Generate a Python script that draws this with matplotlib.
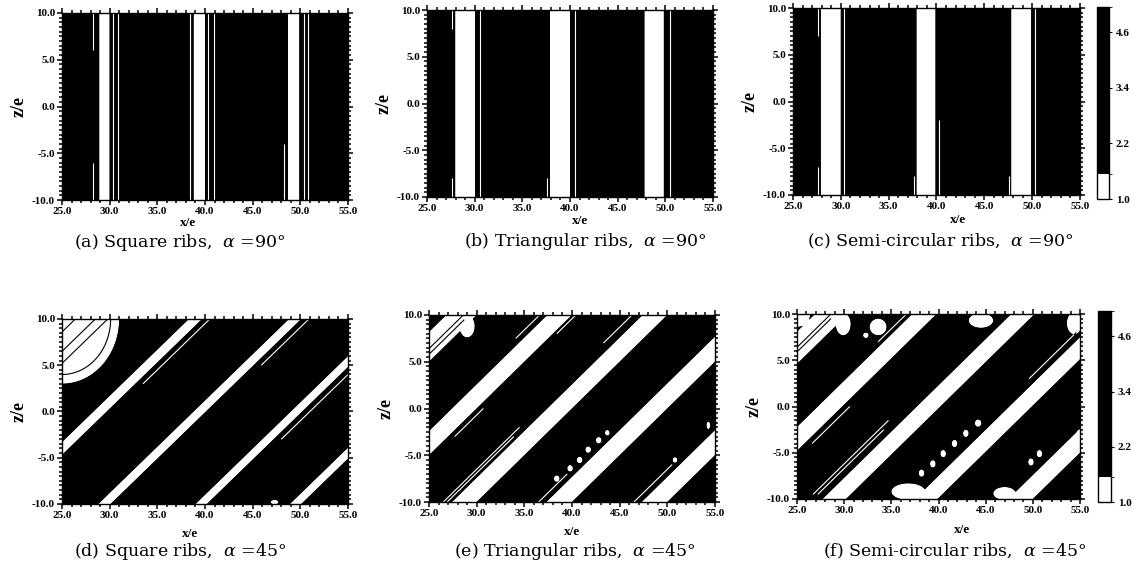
import numpy as np
import matplotlib
matplotlib.use("Agg")
import matplotlib.pyplot as plt
from matplotlib.colors import ListedColormap, BoundaryNorm
from matplotlib.cm import ScalarMappable
from matplotlib.ticker import MultipleLocator, FormatStrFormatter

plt.rcParams['font.family'] = ['Liberation Serif', 'DejaVu Serif']
plt.rcParams['mathtext.fontset'] = 'dejavuserif'

# ---------------- data ----------------
x_lim = (25.0, 55.0)
z_lim = (-10.0, 10.0)
x_ticks = [25.0, 30.0, 35.0, 40.0, 45.0, 50.0, 55.0]
z_ticks = [-10.0, -5.0, 0.0, 5.0, 10.0]
levels = [1.0, 1.55, 5.15]
cbar_ticks = [1.0, 2.2, 3.4, 4.6]

captions = ["(a) Square ribs,  $\\alpha$ =90°",
            "(b) Triangular ribs,  $\\alpha$ =90°",
            "(c) Semi-circular ribs,  $\\alpha$ =90°",
            "(d) Square ribs,  $\\alpha$ =45°",
            "(e) Triangular ribs,  $\\alpha$ =45°",
            "(f) Semi-circular ribs,  $\\alpha$ =45°"]
angles = [90, 90, 90, 45, 45, 45]

# rib bands (s = x for 90 deg, s = x - z for 45 deg)
a_rib_lo = [28.9, 38.8, 48.7]
a_rib_hi = [30.0, 40.0, 49.9]
b_rib_lo = [27.95, 37.9, 47.8]
b_rib_hi = [30.05, 40.0, 49.85]
c_rib_lo = [27.9, 37.9, 47.8]
c_rib_hi = [30.0, 39.9, 49.9]
d_rib_lo = [18.5, 28.3, 38.8, 49.0, 58.9]
d_rib_hi = [19.8, 29.7, 40.1, 50.2, 60.1]
e_rib_lo = [16.8, 27.4, 37.4, 47.3, 57.3]
e_rib_hi = [20.0, 30.0, 40.0, 50.0, 60.0]
f_rib_lo = [16.9, 27.2, 37.7, 47.5, 57.4]
f_rib_hi = [20.4, 29.8, 40.2, 49.9, 60.0]

# thin contour lines: (s value, z min, z max)
a_lines = [(30.4, -10, 10), (30.85, -10, 10), (40.35, -10, 10), (40.9, -10, 10),
           (50.35, -10, 10), (50.8, -10, 10), (28.3, -10, -6), (28.3, 6, 10),
           (38.4, -10, 10), (48.3, -10, -4)]
b_lines = [(30.55, -10, 10), (40.5, -10, 10), (50.5, -10, 10),
           (27.6, 8, 10), (27.6, -10, -8), (37.6, -10, -8)]
c_lines = [(30.35, -10, 10), (40.3, -10, -2), (50.3, -10, 10),
           (27.6, -10, -7), (27.6, 7, 10), (37.6, -10, -8), (47.6, -10, -8)]
d_lines = [(16.4, 8, 10), (18.5, 4, 10), (19.8, 3, 10),
           (30.5, 3, 10), (40.9, 5, 10), (51.0, -3, 5)]
e_lines = [(18.6, 5, 10), (19.2, 5.5, 9.5), (26.6, 7.5, 10), (30.4, 8, 10),
           (30.7, -3, 0), (36.3, 7, 10), (36.5, -10, -2), (36.9, -10, -3),
           (46.5, -10, -7), (56.5, -10, -6)]
f_lines = [(18.6, 5, 10), (19.1, 6, 9.5), (36.2, -9.5, -1.5), (36.7, -9.5, -2.5),
           (26.6, 7, 10), (30.6, -4, 0), (46.6, 3, 8), (56.4, 0, 6)]

# white spots / blobs: (x, z, rx, rz)
a_spots = []
b_spots = []
c_spots = []
d_spots = [(25.0, 10.0, 6.0, 7.0), (47.3, -9.8, 0.4, 0.25)]
e_spots = [(38.4, -7.5, 0.3, 0.35), (39.8, -6.4, 0.3, 0.35), (40.8, -5.5, 0.3, 0.35),
           (41.7, -4.4, 0.3, 0.35), (42.8, -3.4, 0.3, 0.35), (43.7, -2.6, 0.25, 0.3),
           (50.8, -5.5, 0.25, 0.3), (54.3, -1.8, 0.2, 0.4), (29.0, 8.8, 0.8, 1.2)]
f_spots = [(25.0, 10.0, 1.4, 1.4), (38.2, -7.2, 0.3, 0.4), (39.4, -6.2, 0.3, 0.4),
           (40.5, -5.1, 0.3, 0.4), (41.7, -4.0, 0.3, 0.4), (42.9, -2.9, 0.3, 0.4),
           (44.2, -1.8, 0.35, 0.4), (49.8, -6.0, 0.3, 0.4), (50.7, -5.1, 0.3, 0.4),
           (36.8, -9.2, 1.8, 0.9), (47.0, -9.4, 1.2, 0.7), (29.9, 8.9, 0.8, 1.2),
           (33.6, 8.6, 0.9, 0.9), (32.3, 7.7, 0.3, 0.3), (44.5, 9.3, 1.3, 0.8),
           (54.4, 9.0, 0.8, 1.2), (54.9, -3.0, 0.3, 0.5)]

# rings inside blobs: (x, z, rx, rz)
d_rings = [(25.0, 10.0, 5.1, 6.0)]

rib_lo = [a_rib_lo, b_rib_lo, c_rib_lo, d_rib_lo, e_rib_lo, f_rib_lo]
rib_hi = [a_rib_hi, b_rib_hi, c_rib_hi, d_rib_hi, e_rib_hi, f_rib_hi]
lines = [a_lines, b_lines, c_lines, d_lines, e_lines, f_lines]
spots = [a_spots, b_spots, c_spots, d_spots, e_spots, f_spots]
rings = [[], [], [], d_rings, [], []]

# ---------------- layout (pixels) ----------------
W, H = 1139, 580
axes_px = [(62, 348, 13, 200), (427, 713, 10, 197), (793, 1080, 8, 195),
           (62, 348, 319, 504), (429, 715, 315, 502), (797, 1080, 314, 499)]
cbar_px = [(1097, 1109, 7, 199), (1098, 1111, 311, 502)]
xlabel_pos = [(188, 223), (580, 221), (958, 220), (190, 534), (572, 532), (962, 530)]
caption_pos = [(180, 242), (585, 241), (940, 241), (180, 552), (575, 551), (955, 551)]

fig = plt.figure(figsize=(W / 100, H / 100), dpi=100)


def px_rect(l, r, t, b):
    return [l / W, 1 - b / H, (r - l) / W, (b - t) / H]


xg = np.linspace(x_lim[0], x_lim[1], 601)
zg = np.linspace(z_lim[0], z_lim[1], 401)
X, Z = np.meshgrid(xg, zg)
cmap = ListedColormap(['white', 'black'])
norm = BoundaryNorm(levels, 2)


def xor_line(ax, F, level, zmin, zmax, white_bg):
    outside = (Z < zmin) | (Z > zmax)
    for mask, col in [(outside | white_bg, 'white'), (outside | ~white_bg, 'black')]:
        Fm = np.ma.array(F, mask=mask)
        if Fm.count() == 0:
            continue
        if Fm.min() < level < Fm.max():
            ax.contour(X, Z, Fm, levels=[level], colors=col, linewidths=0.8)


for i in range(6):
    ax = fig.add_axes(px_rect(*axes_px[i]))
    S = X if angles[i] == 90 else X - Z
    # signed distance-like membership: negative inside white regions
    M = np.full_like(X, 10.0)
    for lo, hi in zip(rib_lo[i], rib_hi[i]):
        M = np.minimum(M, np.maximum(lo - S, S - hi))
    for cx, cz, rx, rz in spots[i]:
        E = np.sqrt(((X - cx) / rx) ** 2 + ((Z - cz) / rz) ** 2)
        M = np.minimum(M, (E - 1.0) * min(rx, rz))
    V = np.clip(levels[1] + 3.0 * M, 1.02, 5.1)
    ax.set_facecolor('black')
    ax.contourf(X, Z, V, levels=levels, cmap=cmap, norm=norm, antialiased=True)
    white_bg = V < levels[1]
    for s_val, zmin, zmax in lines[i]:
        xor_line(ax, S, s_val, zmin, zmax, white_bg)
    for cx, cz, rx, rz in rings[i]:
        E = ((X - cx) / rx) ** 2 + ((Z - cz) / rz) ** 2
        xor_line(ax, E, 1.0, -10, 10, white_bg)

    ax.set_xlim(*x_lim)
    ax.set_ylim(*z_lim)
    ax.set_xticks(x_ticks)
    ax.set_yticks(z_ticks)
    ax.xaxis.set_minor_locator(MultipleLocator(1.0))
    ax.yaxis.set_minor_locator(MultipleLocator(0.5))
    ax.xaxis.set_major_formatter(FormatStrFormatter('%.1f'))
    ax.yaxis.set_major_formatter(FormatStrFormatter('%.1f'))
    ax.tick_params(which='both', direction='out', top=True, right=True,
                   width=1.1, pad=1.5)
    ax.tick_params(which='major', length=3.5)
    ax.tick_params(which='minor', length=2.2)
    for lab in ax.get_xticklabels() + ax.get_yticklabels():
        lab.set_family(['Liberation Serif', 'DejaVu Serif'])
        lab.set_weight('bold')
        lab.set_size(8)
    for sp in ax.spines.values():
        sp.set_linewidth(1.0)
    ax.set_ylabel('z/e', fontsize=13, fontweight='bold', labelpad=3)
    xl, yl = xlabel_pos[i]
    fig.text(xl / W, 1 - yl / H, 'x/e', ha='center', va='center',
             fontsize=9.5, fontweight='bold')
    cx_, cy_ = caption_pos[i]
    fig.text(cx_ / W, 1 - cy_ / H, captions[i], ha='center', va='center',
             fontsize=12.5, family=['DejaVu Serif'])

for (l, r, t, b) in cbar_px:
    cax = fig.add_axes(px_rect(l, r, t, b))
    sm = ScalarMappable(norm=norm, cmap=cmap)
    cb = fig.colorbar(sm, cax=cax, ticks=cbar_ticks, spacing='proportional')
    cb.ax.yaxis.set_major_formatter(FormatStrFormatter('%.1f'))
    cb.outline.set_linewidth(1.0)
    cb.ax.tick_params(length=2, width=0.8, pad=3)
    for lab in cb.ax.get_yticklabels():
        lab.set_family(['Liberation Serif', 'DejaVu Serif'])
        lab.set_weight('bold')
        lab.set_size(8)

fig.savefig('out.png', dpi=100)
